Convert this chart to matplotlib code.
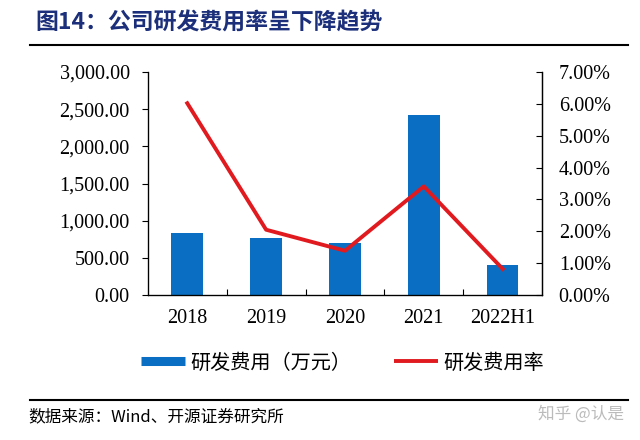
import matplotlib
matplotlib.use("Agg")
import matplotlib.pyplot as plt
from matplotlib.ticker import FuncFormatter, FixedLocator
from matplotlib.lines import Line2D

categories = ["2018", "2019", "2020", "2021", "2022H1"]
rd_expense = [834, 767, 700, 2422, 404]
rd_rate = [6.02, 2.05, 1.39, 3.41, 0.82]
left_ticks = [0, 500, 1000, 1500, 2000, 2500, 3000]
right_ticks = [0, 1, 2, 3, 4, 5, 6, 7]

serif = ["Liberation Serif", "Noto Sans CJK SC"]
cjk = ["Noto Sans CJK SC", "DejaVu Sans"]
BLUE = "#0A6FC2"
RED = "#E01A1F"

fig = plt.figure(figsize=(6.4, 4.4), dpi=100)
ax = fig.add_axes([0.231, 0.3295, 0.616, 0.5068])
x = list(range(len(categories)))
ax.bar(x, rd_expense, width=0.4, color=BLUE, zorder=2)
ax.set_xlim(-0.5, len(categories) - 0.5)
ax.set_ylim(0, 3000)
ax.set_yticks(left_ticks)
ax.yaxis.set_major_formatter(FuncFormatter(lambda v, p: f"{v:,.2f}"))
ax.set_xticks(x)
ax.set_xticklabels(categories)
ax.xaxis.set_minor_locator(FixedLocator([i + 0.5 for i in x[:-1]]))
ax.tick_params(axis="x", which="major", length=0, pad=10)
ax.tick_params(axis="x", which="minor", direction="in", length=4, width=0.8)
ax.tick_params(axis="y", direction="out", length=4, width=0.8, pad=9)
for lab in ax.get_xticklabels() + ax.get_yticklabels():
    lab.set_family(serif)
    lab.set_fontsize(14.5)
ax.spines["top"].set_visible(False)
for s in ["left", "bottom", "right"]:
    ax.spines[s].set_linewidth(0.9)

ax2 = ax.twinx()
ax2.plot(x, rd_rate, color=RED, linewidth=2.8, zorder=3)
ax2.set_ylim(0, 7)
ax2.set_yticks(right_ticks)
ax2.yaxis.set_major_formatter(FuncFormatter(lambda v, p: f"{v:.2f}%"))
ax2.tick_params(axis="y", direction="in", length=4, width=0.8, pad=12)
for lab in ax2.get_yticklabels():
    lab.set_family(serif)
    lab.set_fontsize(14.5)
ax2.spines["top"].set_visible(False)
ax2.spines["right"].set_linewidth(0.9)

handles = [Line2D([0], [0], color=BLUE, linewidth=6.5, solid_capstyle="butt"),
           Line2D([0], [0], color=RED, linewidth=2.8, solid_capstyle="butt")]
leg = fig.legend(handles, ["研发费用（万元）", "研发费用率"], loc="center left",
                 bbox_to_anchor=(141 / 640, 1 - 363 / 440), ncol=2, frameon=False,
                 prop={"family": cjk, "size": 14.5}, handlelength=2.2,
                 handletextpad=0.26, columnspacing=2.1, borderpad=0, borderaxespad=0)

fig.text(0.055, 0.948, "图14：公司研发费用率呈下降趋势", fontsize=16.5, fontweight="bold",
         color="#1B2F7A", family=cjk, va="center")
fig.add_artist(Line2D([0.047, 0.981], [0.897, 0.897], color="black", linewidth=1.5))
fig.add_artist(Line2D([0.047, 0.981], [0.09, 0.09], color="black", linewidth=1.5))
fig.text(0.045, 0.052, "数据来源：Wind、开源证券研究所", fontsize=12, family=cjk, va="center")
fig.text(0.975, 0.058, "知乎 @认是", fontsize=12, family=cjk, va="center", ha="right", color="#BBBBBB")

fig.savefig("out.png", dpi=100)
